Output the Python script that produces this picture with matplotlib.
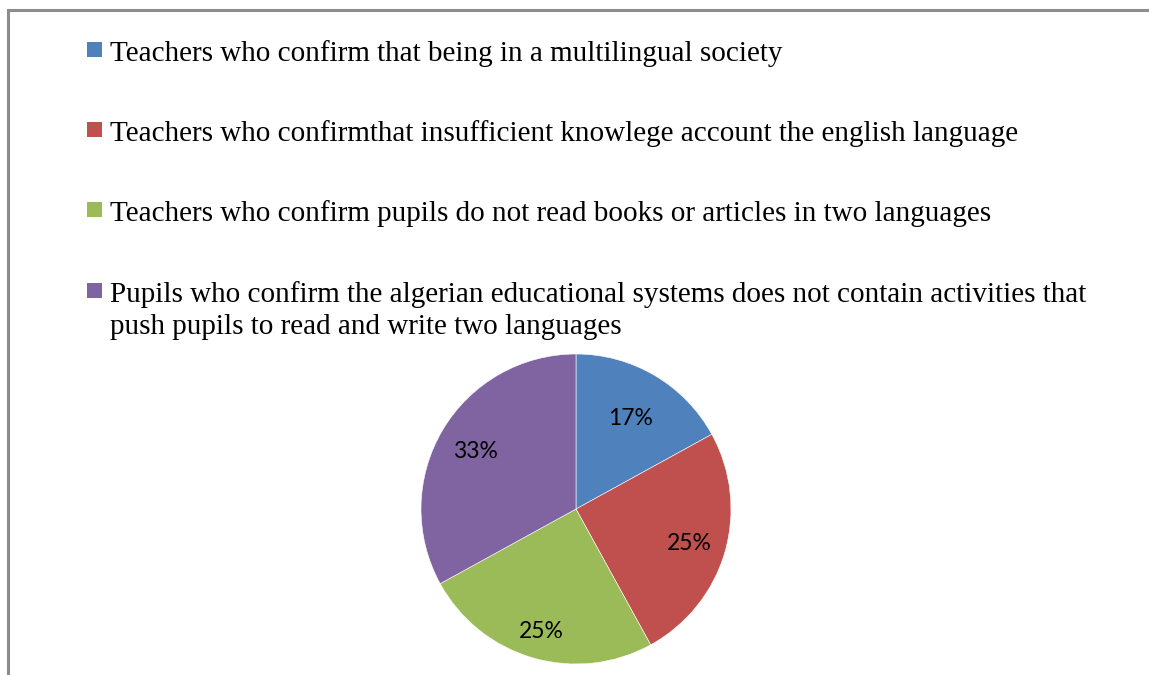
import numpy as np
import matplotlib.pyplot as plt
from matplotlib.patches import Rectangle

labels = [
    'Teachers who confirm that being in a multilingual society',
    'Teachers who confirmthat insufficient knowlege account the english language',
    'Teachers who confirm pupils do not read books or articles in two languages',
    'Pupils who confirm the algerian educational systems does not contain activities that\n'
    'push pupils to read and write two languages',
]
shares = [17, 25, 25, 33]
colors = ['#4F81BD', '#C0504D', '#9BBB59', '#8064A2']
# distance des étiquettes au centre (placement "au mieux")
label_r = [0.69, 0.76, 0.81, 0.75]

W, H = 1149, 675
fig = plt.figure(figsize=(W / 100, H / 100), dpi=100)

# cadre gris (haut et gauche)
frame = Rectangle((8 / W, -0.1), 1.2, (H - 10.5) / H + 0.1, transform=fig.transFigure,
                  fill=False, edgecolor='#8c8c8c', linewidth=2.2)
fig.patches.append(frame)

# légende faite à la main
baselines = [61, 141, 221, 302]
for lab, col, yb in zip(labels, colors, baselines):
    fig.patches.append(Rectangle((87 / W, 1 - (yb - 4) / H), 15 / W, 15 / H,
                                 transform=fig.transFigure, facecolor=col, edgecolor='none'))
    for k, line in enumerate(lab.split('\n')):
        fig.text(110 / W, 1 - (yb + 32 * k) / H, line, family='Liberation Serif',
                 fontsize=21, va='baseline', ha='left')

# camembert
cx, cy, r = 576, 509, 155
ax = fig.add_axes([(cx - r) / W, (H - cy - r) / H, 2 * r / W, 2 * r / H])
wedges, _ = ax.pie(shares, colors=colors, startangle=90, counterclock=False,
                   wedgeprops=dict(edgecolor='white', linewidth=0.4))
for w, v, d in zip(wedges, shares, label_r):
    a = np.deg2rad((w.theta1 + w.theta2) / 2)
    ax.text(d * np.cos(a), d * np.sin(a), f'{v}%', family='Lato', fontsize=16.5,
            ha='center', va='center_baseline', color='black')
ax.set_xlim(-1, 1)
ax.set_ylim(-1, 1)
ax.set_aspect('equal')

fig.savefig('out.png', dpi=100)
